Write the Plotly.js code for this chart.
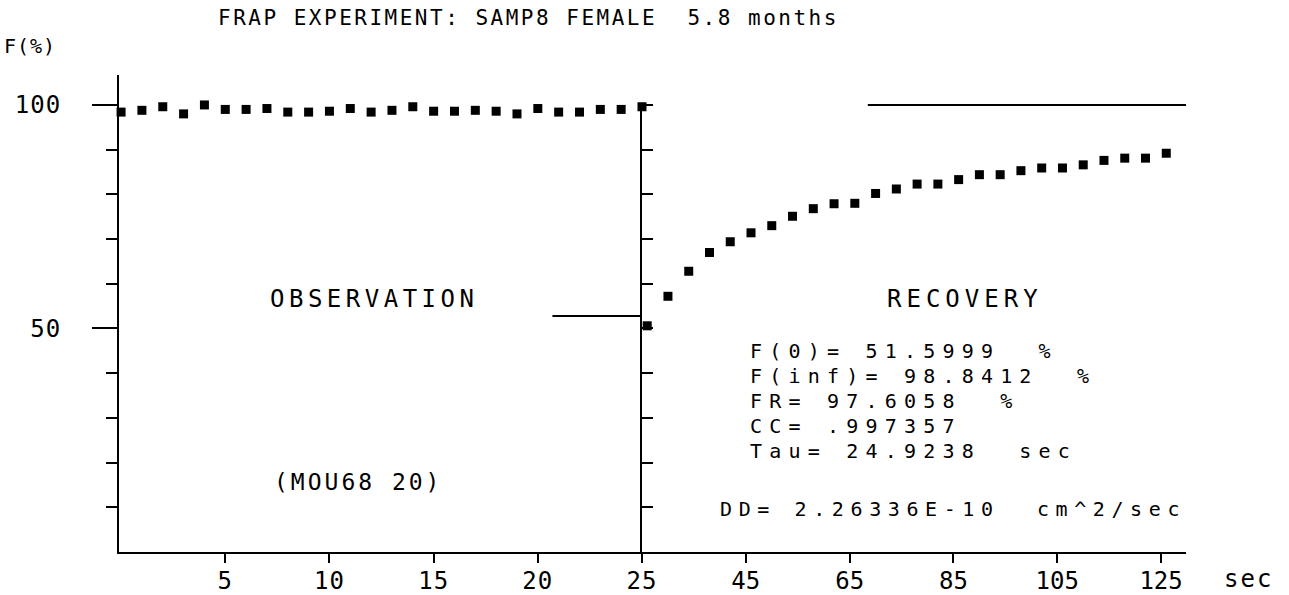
<!DOCTYPE html>
<html>
<head>
<meta charset="utf-8">
<script src="https://cdn.plot.ly/plotly-3.0.1.min.js"></script>
<style>
  html, body { margin: 0; padding: 0; background: #fff; }
  #chart { width: 1289px; height: 595px; }
  .gtitle { letter-spacing: 2.5px; }
  .xtick text, .ytick text { letter-spacing: 1px; }
</style>
</head>
<body>
<div id="chart"></div>
<script>
// ---- data ----
const obsTime = [0, 1, 2, 3, 4, 5, 6, 7, 8, 9, 10, 11, 12, 13, 14, 15, 16, 17, 18, 19, 20, 21, 22, 23, 24, 25];
const obsF = [98.4, 98.8, 99.6, 98.0, 100.0, 99.0, 99.0, 99.2, 98.4, 98.4, 98.6, 99.2, 98.4, 98.8, 99.6, 98.6,
              98.6, 98.8, 98.6, 98.0, 99.2, 98.4, 98.4, 99.0, 99.0, 99.6];
const recTime = [26, 30, 34, 38, 42, 46, 50, 54, 58, 62, 66, 70, 74, 78, 82, 86, 90, 94, 98, 102, 106, 110, 114, 118, 122, 126];
const recF = [50.6, 57.2, 62.8, 67.0, 69.4, 71.4, 73.0, 75.1, 76.8, 77.9, 78.0, 80.2, 81.2, 82.3, 82.3, 83.3,
              84.4, 84.4, 85.3, 85.9, 85.9, 86.6, 87.6, 88.1, 88.1, 89.2];
const f0Level = 52.8;        // level of the short F(0) line as drawn
const finfLevel = 100.0;     // level of the long F(inf) line as drawn
const f0LineTime = [20.7, 25];
const finfLineTime = [68.5, 129.8];
const obsTickVals = [5, 10, 15, 20, 25];
const obsTickText = ['5', '10', '15', '20', '25'];
const recTickVals = [45, 65, 85, 105, 125];
const recTickText = ['45', '65', '85', '105', '125'];
const yTickVals = [50, 100];
const yTickText = ['50', '100'];
const yMinorVals = [10, 20, 30, 40, 60, 70, 80, 90];
const yRightTicks = [10, 20, 30, 40, 50, 60, 70, 80, 90, 100];
const statLines = ['F(0)= 51.5999  %', 'F(inf)= 98.8412  %', 'FR= 97.6058  %', 'CC= .997357', 'Tau= 24.9238  sec'];

// ---- layout helpers (pixel -> paper) ----
const L = 119, R = 103, T = 75, B = 43, WID = 1289, HEI = 595;
const PW = WID - L - R, PH = HEI - T - B;
const px = v => (v - L) / PW;
const py = v => (HEI - B - v) / PH;
const FONT = 'DejaVu Sans Mono, monospace';

function esc(s) { return s.replace(/&/g, '&amp;').replace(/</g, '&lt;').replace(/>/g, '&gt;'); }
function ann(text, x, y, size, spacing) {
  return { text: '<span style="letter-spacing:' + spacing + 'px">' + esc(text) + '</span>',
           xref: 'paper', yref: 'paper', x: px(x), y: py(y),
           xanchor: 'left', yanchor: 'middle', showarrow: false,
           font: { family: FONT, size: size, color: '#000' } };
}

const splitX = (642 - L) / PW;
const mk = { symbol: 'square', size: 9, color: '#000' };

const traces = [
  { x: obsTime, y: obsF, xaxis: 'x', yaxis: 'y', mode: 'markers', marker: mk, cliponaxis: false, hoverinfo: 'skip' },
  { x: recTime, y: recF, xaxis: 'x2', yaxis: 'y2', mode: 'markers', marker: mk, cliponaxis: false, hoverinfo: 'skip' },
  { x: f0LineTime, y: [f0Level, f0Level], xaxis: 'x', yaxis: 'y', mode: 'lines', line: { color: '#000', width: 2 }, cliponaxis: false, hoverinfo: 'skip' },
  { x: finfLineTime, y: [finfLevel, finfLevel], xaxis: 'x2', yaxis: 'y2', mode: 'lines', line: { color: '#000', width: 2 }, cliponaxis: false, hoverinfo: 'skip' }
];

const axisCommon = { showgrid: false, zeroline: false, showline: true, linecolor: '#000', linewidth: 2,
                     tickcolor: '#000', tickwidth: 2, tickfont: { family: FONT, size: 24, color: '#000' } };

const annotations = [
  ann('F(%)', 2, 46, 20, 1),
  ann('OBSERVATION', 268, 299, 24, 4.5),
  ann('RECOVERY', 885, 299, 24, 5),
  ann('(MOU68 20)', 272, 482, 23, 3),
  ann('DD= 2.26336E-10  cm^2/sec', 718, 509, 20, 6.6),
  ann('sec', 1222, 579, 24, 2)
];
const statY = [351, 376, 401, 426, 451];
statLines.forEach((s, i) => annotations.push(ann(s, 748, statY[i], 20, 7.2)));

const layout = {
  width: WID, height: HEI,
  margin: { l: L, r: R, t: T, b: B },
  paper_bgcolor: '#fff', plot_bgcolor: '#fff',
  showlegend: false,
  title: { text: 'FRAP EXPERIMENT: SAMP8 FEMALE  5.8 months', xref: 'container', yref: 'container',
           x: 218 / WID, xanchor: 'left', y: 1 - 18 / HEI, yanchor: 'middle',
           font: { family: FONT, size: 21, color: '#000' } },
  xaxis: Object.assign({}, axisCommon, {
    domain: [0, splitX], range: [-0.1, 25], anchor: 'y',
    tickmode: 'array', tickvals: obsTickVals, ticktext: obsTickText,
    ticks: 'outside', ticklen: 9, ticklabelstandoff: -3
  }),
  xaxis2: Object.assign({}, axisCommon, {
    domain: [splitX, 1], range: [25, 129.8], anchor: 'y2',
    tickmode: 'array', tickvals: recTickVals, ticktext: recTickText,
    ticks: 'outside', ticklen: 9, ticklabelstandoff: -3
  }),
  yaxis: Object.assign({}, axisCommon, {
    domain: [0, 1], range: [0, 106.7], anchor: 'x',
    tickmode: 'array', tickvals: yTickVals, ticktext: yTickText,
    ticks: 'outside', ticklen: 25, ticklabelstandoff: 26,
    minor: { tickmode: 'array', tickvals: yMinorVals, ticks: 'outside', ticklen: 11, tickcolor: '#000', tickwidth: 2 }
  }),
  yaxis2: Object.assign({}, axisCommon, {
    domain: [0, 100.5 / 106.7], range: [0, 100.5], anchor: 'x2',
    tickmode: 'array', tickvals: yRightTicks, showticklabels: false,
    ticks: 'inside', ticklen: 11
  }),
  annotations: annotations
};

Plotly.newPlot('chart', traces, layout, { staticPlot: true, displayModeBar: false });
</script>
</body>
</html>
